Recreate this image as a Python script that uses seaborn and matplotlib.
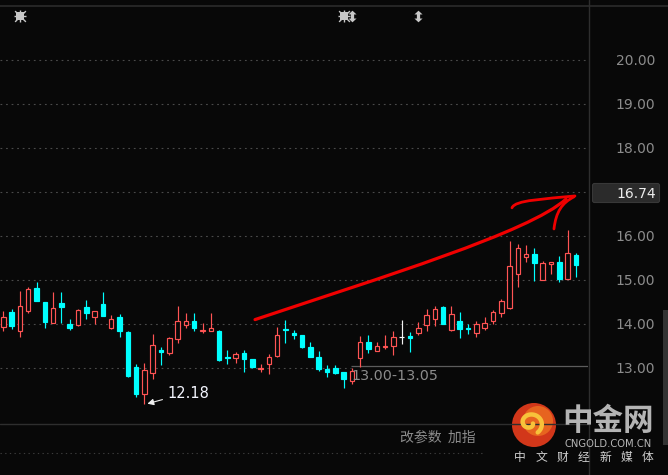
import numpy as np
import pandas as pd
import seaborn as sns
import matplotlib
matplotlib.use("Agg")
import matplotlib.pyplot as plt
from matplotlib.path import Path
from matplotlib.patches import PathPatch, Circle, FancyBboxPatch, Rectangle

# Daily OHLC prices
opens = [13.93, 14.27, 13.85, 14.30, 14.82, 14.50, 14.03, 14.48, 14.00, 13.98,
         14.38, 14.17, 14.45, 13.92, 14.15, 13.82, 13.02, 12.42, 12.88, 13.40,
         13.35, 13.67, 13.98, 14.07, 13.84, 13.85, 13.84, 13.25, 13.23, 13.34,
         13.20, 12.98, 13.08, 13.28, 13.89, 13.80, 13.76, 13.48, 13.25, 12.98,
         13.00, 12.91, 12.71, 13.23, 13.58, 13.38, 13.47, 13.51, 13.70, 13.73,
         13.80, 13.98, 14.12, 14.39, 13.87, 14.06, 13.90, 13.79, 13.92, 14.07,
         14.24, 14.36, 15.13, 15.52, 15.59, 15.00, 15.37, 15.41, 15.03, 15.56]
closes = [14.17, 13.96, 14.41, 14.80, 14.53, 14.05, 14.36, 14.39, 13.92, 14.31,
          14.26, 14.29, 14.19, 14.11, 13.83, 12.82, 12.41, 12.95, 13.52, 13.36,
          13.68, 14.07, 14.06, 13.92, 13.86, 13.90, 13.18, 13.23, 13.31, 13.20,
          13.03, 13.00, 13.24, 13.74, 13.87, 13.74, 13.48, 13.26, 12.98, 12.92,
          12.89, 12.75, 12.93, 13.58, 13.44, 13.49, 13.49, 13.70, 13.70, 13.69,
          13.90, 14.20, 14.34, 14.01, 14.23, 13.89, 13.88, 14.00, 14.02, 14.27,
          14.52, 15.32, 15.72, 15.58, 15.39, 15.38, 15.40, 15.02, 15.61, 15.35]
highs = [14.30, 14.33, 14.75, 14.85, 14.95, 14.50, 14.73, 14.73, 14.11, 14.33,
         14.55, 14.29, 14.73, 14.20, 14.22, 13.84, 13.09, 13.11, 13.77, 13.47,
         13.70, 14.41, 14.25, 14.25, 14.02, 14.25, 13.86, 13.41, 13.36, 13.40,
         13.20, 13.08, 13.31, 13.93, 14.09, 13.86, 13.76, 13.60, 13.38, 13.06,
         13.06, 12.91, 12.99, 13.73, 13.75, 13.60, 13.75, 13.84, 14.09, 13.82,
         14.05, 14.33, 14.42, 14.42, 14.41, 14.27, 14.00, 14.06, 14.16, 14.32,
         14.56, 15.89, 15.82, 15.80, 15.72, 15.43, 15.40, 15.55, 16.14, 15.62]
lows = [13.84, 13.89, 13.71, 14.26, 14.53, 13.92, 14.03, 14.02, 13.86, 13.96,
        14.12, 14.00, 14.19, 13.89, 13.71, 12.80, 12.33, 12.18, 12.74, 13.07,
        13.29, 13.56, 13.91, 13.85, 13.79, 13.85, 13.16, 13.09, 13.11, 12.92,
        12.99, 12.92, 12.87, 13.26, 13.56, 13.67, 13.46, 13.26, 12.94, 12.80,
        12.87, 12.55, 12.64, 13.03, 13.35, 13.38, 13.43, 13.30, 13.55, 13.37,
        13.74, 13.83, 13.96, 14.01, 13.85, 13.69, 13.78, 13.71, 13.87, 14.01,
        14.17, 14.34, 14.83, 15.40, 14.98, 15.00, 15.14, 14.95, 15.02, 15.07]

price_ticks = [13, 14, 15, 16, 18, 19, 20]
grid_levels = [13, 14, 15, 16, 17, 18, 19, 20]
last_price = "16.74"
range_text = "13.00-13.05"
range_level = 13.04
range_start = 42
star_events = [2, 41]
split_events = [42, 50]
slogan = ["中", "文", "财", "经", "新", "媒", "体"]

BG = "#080808"
UP = "#ff5454"
DOWN = "#00ffff"
FLAT = "#f2f2f2"
GRID = "#4a4a4a"
LABEL = "#8c8c8c"

sns.set_theme(style="dark", rc={"axes.facecolor": BG, "figure.facecolor": BG,
                                "savefig.facecolor": BG})
plt.rcParams["font.family"] = ["DejaVu Sans", "Noto Sans CJK SC"]
CJK = ["Noto Sans CJK SC", "DejaVu Sans"]

df = pd.DataFrame({"open": opens, "close": closes, "high": highs, "low": lows})
df["idx"] = np.arange(len(df))
df["color"] = np.where(df["close"] > df["open"], UP,
                       np.where(df["close"] < df["open"], DOWN, FLAT))
df["body_lo"] = df[["open", "close"]].min(axis=1)
df["body_h"] = (df["close"] - df["open"]).abs().clip(lower=0.012)
df["face"] = np.where(df["close"] > df["open"], BG, df["color"])

fig = plt.figure(figsize=(6.68, 4.75), dpi=100)
ax = fig.add_axes([0, 52 / 475, 588 / 668, 417 / 475])
ax.set_facecolor(BG)
x_lo, x_hi = -0.4, 70.45
ax.set_xlim(x_lo, x_hi)
ax.set_ylim(11.75, 21.227)
for s in ax.spines.values():
    s.set_visible(False)
ax.grid(False)
ax.set_xticks([])

# dotted price grid; the 13 line gives way to the solid range marker
for lvl in grid_levels:
    xmax = range_start - 0.1 if lvl == 13 else x_hi
    ax.hlines(lvl, x_lo, xmax, colors=GRID, linestyles=(0, (1.6, 3.4)), lw=0.8, zorder=1)
ax.hlines(range_level, range_start - 0.05, x_hi, colors="#5c5c5c", lw=0.9, zorder=1)
ax.text(range_start - 0.05, range_level - 0.06, range_text, color=LABEL, fontsize=10.3,
        ha="left", va="top", zorder=4)

# candlesticks: wicks then bodies (up candles hollow)
ax.vlines(df["idx"], df["low"], df["high"], colors=df["color"], lw=0.85, zorder=2)
ax.bar(df["idx"], df["body_h"], bottom=df["body_lo"], width=0.55,
       color=df["face"], edgecolor=df["color"], linewidth=0.85, zorder=3)

# lowest low marker
low_i = int(df["low"].idxmin())
low_v = df["low"].min()
ax.annotate(f"{low_v:.2f}", xy=(low_i + 0.2, low_v), xytext=(21, 11),
            textcoords="offset pixels", color="#f4f6ff", fontsize=10.5,
            ha="left", va="center", zorder=5,
            arrowprops=dict(arrowstyle="-|>,head_length=0.35,head_width=0.18",
                            color="#f0f0f0", lw=0.8, relpos=(0, 0.15),
                            shrinkA=1, shrinkB=1))

# event markers along the top
xt = ax.get_xaxis_transform()
star_y = 0.976
ax.scatter(star_events, [star_y] * len(star_events), transform=xt, marker="s",
           s=28, color="#c8c8c8", linewidths=0, zorder=5, clip_on=False)
ax.scatter(star_events, [star_y] * len(star_events), transform=xt, marker="+",
           s=80, color="#c8c8c8", linewidths=1.0, zorder=5, clip_on=False)
ax.scatter(star_events, [star_y] * len(star_events), transform=xt, marker="x",
           s=60, color="#c8c8c8", linewidths=1.0, zorder=5, clip_on=False)
double_arrow = [(0, 1), (0.7, 0.35), (0.28, 0.35), (0.28, -0.35), (0.7, -0.35),
                (0, -1), (-0.7, -0.35), (-0.28, -0.35), (-0.28, 0.35), (-0.7, 0.35)]
ax.scatter(split_events, [star_y] * len(split_events), transform=xt,
           marker=double_arrow, s=70, color="#c8c8c8", linewidths=0, zorder=5,
           clip_on=False)

# hand-drawn trend arrow
red_pen = dict(facecolor="none", edgecolor="#f00000", capstyle="round",
               joinstyle="round", zorder=6)
C4 = [Path.MOVETO, Path.CURVE4, Path.CURVE4, Path.CURVE4]
trend = [(30.33, 14.10), (45.39, 15.05), (63.46, 16.09), (67.80, 16.84)]
head_top = [(61.29, 16.64), (61.65, 16.82), (65.27, 16.84), (68.88, 16.91)]
head_low = [(66.35, 16.16), (66.59, 16.55), (67.31, 16.75), (68.76, 16.89)]
ax.add_patch(PathPatch(Path(trend, C4), lw=2.3, **red_pen))
ax.add_patch(PathPatch(Path(head_top, C4), lw=2.0, **red_pen))
ax.add_patch(PathPatch(Path(head_low, C4), lw=2.0, **red_pen))

# right-hand price scale
ax.yaxis.tick_right()
ax.set_yticks(price_ticks)
ax.set_yticklabels([f"{t:.2f}" for t in price_ticks])
ax.tick_params(axis="y", length=0, pad=20, labelcolor=LABEL, labelsize=10)

# frame, panels and overlays in pixel space
ov = fig.add_axes([0, 0, 1, 1], zorder=10)
ov.set_xlim(0, 668)
ov.set_ylim(475, 0)
ov.axis("off")
ov.patch.set_alpha(0)
ov.plot([0, 668], [6, 6], color="#2c2c2c", lw=1.2)
ov.plot([588.5, 588.5], [0, 475], color="#2e2e2e", lw=1.0)
ov.plot([0, 588.5], [423.5, 423.5], color="#2e2e2e", lw=1.0)
ov.plot([0, 482], [453, 453], color="#3c3c3c", lw=0.8, ls=(0, (1.2, 3)))
ov.add_patch(Rectangle((663, 310), 5, 135, color="#333333", lw=0))

ov.add_patch(FancyBboxPatch((592.5, 183.5), 67, 19,
                            boxstyle="round,pad=0,rounding_size=2",
                            fc="#2b2b2b", ec="#383838", lw=0.8))
ov.text(656, 193.5, last_price, color="#ececec", fontsize=10, ha="right", va="center")

ov.text(400, 438, "改参数  加指", color=LABEL, fontsize=10, ha="left", va="center",
        family=CJK)

# watermark logo
ov.add_patch(Circle((534, 425), 22, fc="#de3a1c", ec="none", alpha=0.95))
ov.add_patch(Circle((538, 421), 15, fc="#ea6a20", ec="none", alpha=0.9))
t = np.linspace(0.2, 2 * np.pi * 1.15, 80)
r = 3 + 1.6 * t
ov.plot(530 + r * np.cos(t) * 0.9, 423 + r * np.sin(t) * 0.8, color="#f7c23a",
        lw=3.2, solid_capstyle="round")
ov.text(608, 421, "中金网", color="#b4b4b4", fontsize=22, fontweight="bold",
        ha="center", va="center", family=CJK)
ov.text(608, 444, "CNGOLD.COM.CN", color="#b8b8b8", fontsize=7.2, ha="center",
        va="center")
for i, ch in enumerate(slogan):
    ov.text(520 + i * 21.3, 457, ch, color="#d0d0d0", fontsize=8.5, ha="center",
            va="center", family=CJK)

fig.savefig("out.png", dpi=100, facecolor=BG)
